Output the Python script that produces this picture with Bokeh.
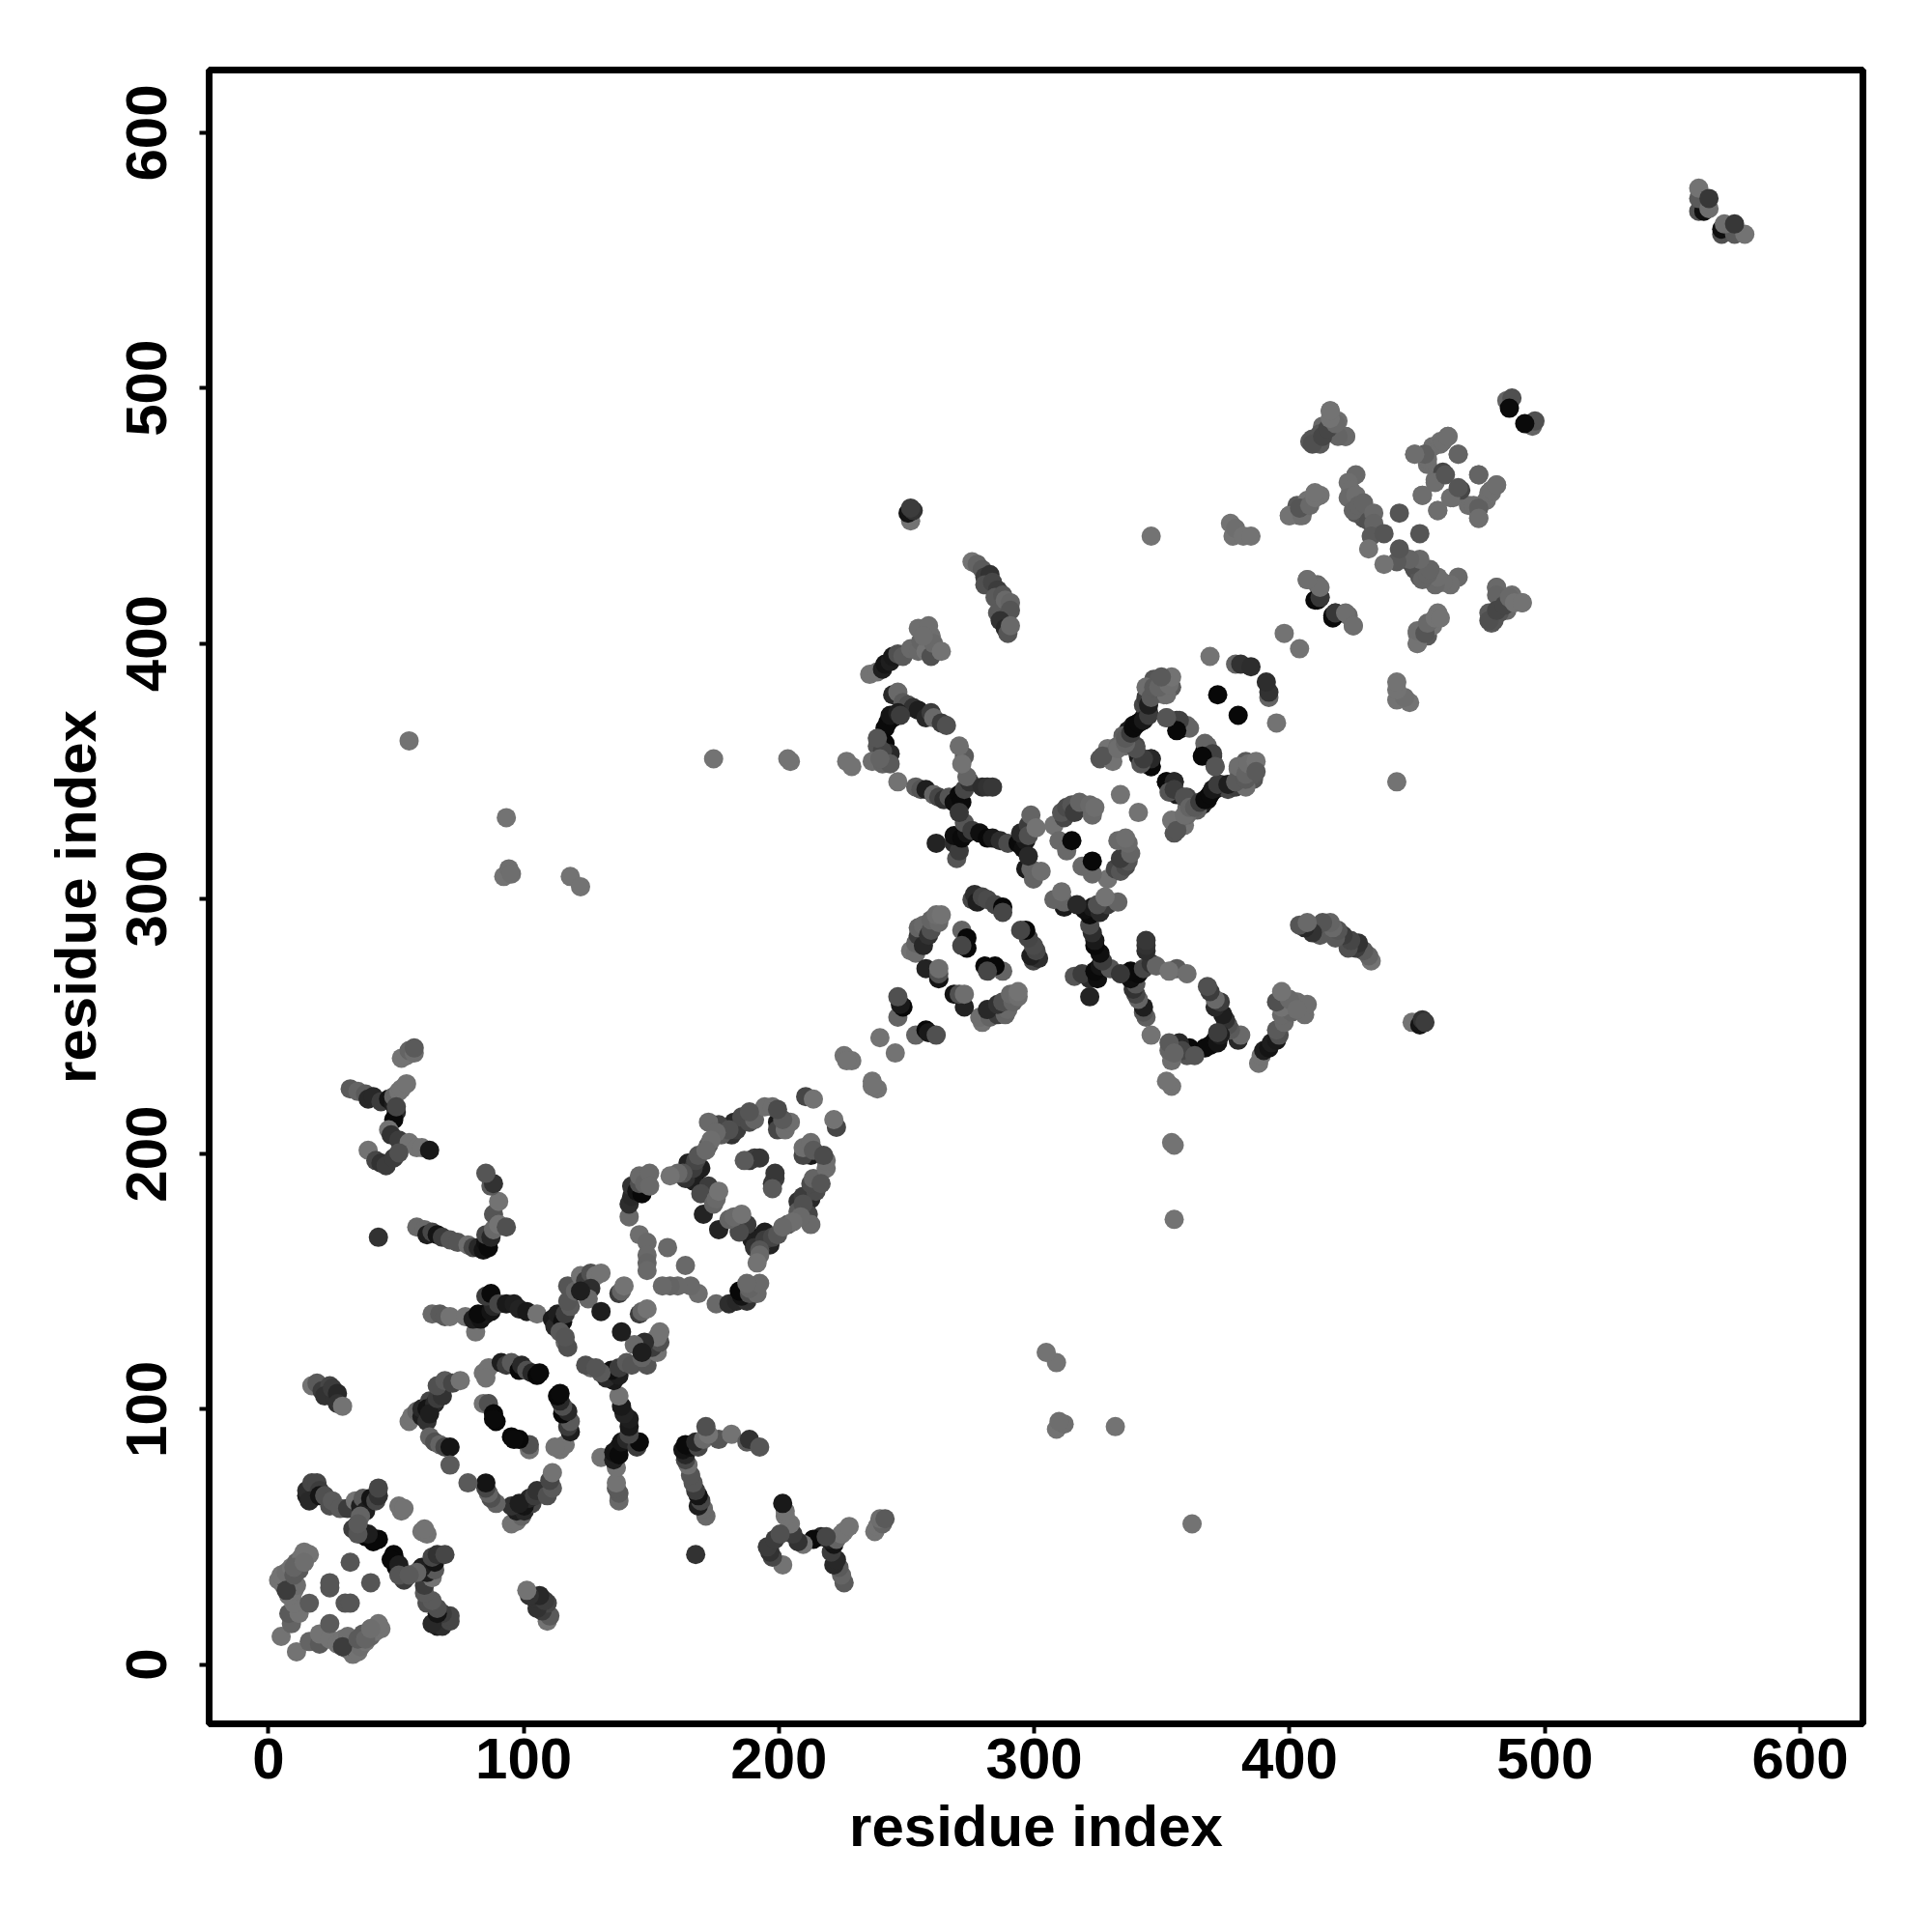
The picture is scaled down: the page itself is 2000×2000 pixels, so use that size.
from bokeh.plotting import figure
from bokeh.models import ColumnDataSource, Range1d, FixedTicker
from bokeh.embed import file_html
from bokeh.resources import INLINE

# Contacts: residue i, residue j, grey level (0-255) of the dot.
# The map is symmetric, each contact is shown at (i, j) and (j, i).
a_i = [5,9,8,12,10,16,8,10,9,6,4,7,5,7,12,9,11,14,13,14,16,24,24,32,11,7,10,10,14]
a_j = [11,16,20,20,24,24,27,29,32,31,33,33,35,36,37,38,40,40,42,44,43,30,32,40,31,29,35,38,40]
a_g = [115,100,90,115,115,90,115,115,115,115,115,60,115,110,90,115,100,115,115,115,115,85,85,85,110,60,90,100,110]

b_i = [15,15,17,19,20,16,20,22,24,25,28,31,34,36,37,38,40,42,43,43,36,35,33,35,38,40,43,41,39,35,35,52,51,53]
b_j = [66,68,71,71,68,64,66,66,62,64,61,61,64,62,65,60,65,64,66,69,58,55,53,52,50,50,49,48,51,51,55,60,62,61]
b_g = [30,45,70,70,60,40,20,80,80,90,90,60,115,30,90,30,20,70,50,70,100,100,60,70,8,8,8,8,30,85,90,115,115,115]

c_i = [17,19,21,24,22,26,25,27,27,29]
c_j = [109,110,107,109,105,104,108,106,102,101]
c_g = [115,90,60,70,50,50,60,40,50,115]

e_i = [55,56,58,60,60,62,63,62,65,63,66,68,66,69,72,75,63,65,67,69,71,71]
e_j = [95,97,99,97,100,95,103,100,102,98,104,105,109,111,110,111,89,87,86,85,85,78]
e_g = [115,115,100,30,40,50,70,20,40,30,60,50,80,90,70,115,100,80,100,70,20,90]

f_i = [84,86,85,91,93,95,98,99,101,103,105,106,84,86,88,89,88]
f_j = [114,116,112,118,117,118,115,117,115,114,113,114,102,102,98,95,96]
f_g = [115,115,115,30,60,90,8,40,80,40,8,10,115,80,8,8,10]

h_i = [52,54,55,57,57]
h_j = [237,238,240,239,241]
h_g = [115,115,100,110,90]

k_i = [32,35,38,39,41,44,47,49,50,49,47,48,51,55,58,60,63,39,42,44,46,49,51,49,51,52,54,50]
k_j = [225,224,223,221,222,220,221,219,216,213,209,207,205,204,202,202,201,201,197,196,195,198,200,222,224,225,227,218]
k_g = [90,100,90,40,40,60,20,30,40,10,115,50,60,115,115,115,25,115,70,50,60,60,80,100,115,115,115,70]

j_i = [43]
j_j = [167]
j_g = [50]

l_i = [58,61,62,64,66,68,71,74,78,80,82,84,85,86,85,87,88,88,90,93,90,87,88,85]
l_j = [171,170,168,169,168,167,166,165,164,163,163,162,165,163,168,167,170,176,172,171,181,187,188,192]
l_g = [105,105,30,70,20,60,85,85,110,70,40,20,15,10,70,40,105,85,115,80,115,90,50,85]

m_i = [64,67,69,71,77,81,80,83,85,82,87,88,85,87,90,93,96,98,101,105]
m_j = [137,137,136,136,136,130,135,135,137,137,138,140,144,145,141,141,141,139,138,137]
m_g = [105,90,90,115,115,115,30,20,25,10,20,40,60,10,70,25,30,35,25,115]

n_i = [111,112,113,115,116,114,116,117,116,118,117,117,120,122,124,126,128,130,126,125,122]
n_j = [135,132,137,134,137,130,126,124,128,140,142,148,146,152,150,153,152,153,147,143,146]
n_g = [25,40,30,15,60,90,105,80,85,90,85,85,100,115,60,80,115,115,45,105,30]

o_i = [130,137,138,139]
o_j = [138,145,146,148]
o_g = [30,60,100,115]

q_i = [141,141,142,142,144,146,145,145,147,149,149]
q_j = [175,180,183,187,185,184,188,191,188,192,187]
q_g = [105,45,40,50,20,8,80,105,100,105,105]

r_i = [145,148,148,148,148,156]
r_j = [168,165,160,157,154,163]
r_g = [110,105,105,100,105,105]

s_i = [167,164,166,169,163,181,182,199,183,166,172,167,199,176,185,188,162,168,177,172,202,180,204,201,190,160,175,173,194,197,171,157,199,188]
s_j = [192,196,189,194,190,207,212,212,209,194,203,197,209,211,214,212,192,199,207,212,209,209,212,213,213,192,208,205,218,218,201,191,217,216]
s_g = [10,35,30,30,50,50,40,25,60,60,90,70,70,70,75,75,85,85,90,105,110,80,110,90,100,105,105,110,110,110,105,115,75,85]

t_i = [170,172,169,174,175,176,188,190,192,186,210,213,225,228,226,239]
t_j = [176,187,184,180,182,185,197,198,198,197,222,221,238,236,236,245]
t_g = [35,60,75,100,105,115,55,60,55,90,70,115,115,115,115,115]

u_i = [246,248,247,246,251,253,253,254,256,254,256,258,259,259,262,261,263,257,262,262,262]
u_j = [253,257,258,261,279,278,282,285,281,288,289,285,287,291,290,293,293,272,268,270,272]
u_g = [100,8,25,80,115,110,100,60,40,100,105,50,80,100,105,110,115,35,20,80,110]

w_i = [271,273,273,271,275,276,277,279,281,284,287,287]
w_j = [287,284,280,281,299,301,298,300,299,297,296,294]
w_g = [100,8,8,70,70,45,30,70,75,70,8,70]

y_i = [246,253,255,257,260,262,264,266,268,270,271,272,274,273,279,281,283,272,271,270]
y_j = [345,343,342,342,340,339,338,339,337,340,337,342,345,347,343,343,343,355,352,359]
y_g = [115,95,85,30,100,70,50,85,15,10,10,70,50,100,45,50,55,90,115,110]

z_i = [261,268,269,270,268,271,273,272,270,275,278,281,283,286,289,293,295,296,294,297,298,297,300,307,296,298,299,302,297]
z_j = [321,321,315,318,324,323,325,329,333,326,325,323,323,322,321,321,319,322,325,328,332,324,327,328,311,311,307,310,316]
z_g = [35,45,85,60,15,10,20,85,55,60,15,8,25,45,75,10,15,25,40,60,100,80,115,115,25,100,100,110,40]

aa_i = [309,312,314,311,310,312,314,315,317,322,321,323,333]
aa_j = [322,318,322,331,333,335,336,333,337,332,336,335,340]
aa_g = [105,105,8,70,85,75,85,60,100,105,105,110,115]

bb_i = [235,238,240,241,243,244,246,248,251,254,255,257,259,259,260,263,254,258,256]
bb_j = [387,388,389,391,392,394,395,394,397,396,400,396,394,402,399,396,405,406,402]
bb_g = [115,115,30,20,30,25,80,90,105,105,100,115,80,110,105,115,110,110,110]

cc_i = [275,277,279,280,282,280,283,285,284,287,285,288,290,290,286,288,289,290]
cc_j = [431,430,428,425,426,422,423,420,417,418,411,416,415,412,408,405,403,406]
cc_g = [115,100,90,60,50,80,70,60,90,85,90,105,100,85,50,40,85,105]

dd_i = [251,250,252,251]
dd_j = [447,450,451,452]
dd_g = [115,20,50,60]

ee_i = [338,340,336,342,344,347,357,355,342,343,325,334,328,329,332,345,346,348,350,351,352,353,351,359,343]
ee_j = [367,368,365,370,372,382,366,369,375,378,354,363,358,355,359,381,385,385,379,381,385,382,370,367,382]
ee_g = [15,10,30,25,35,30,8,50,70,60,85,95,115,100,105,100,85,90,115,100,95,90,115,100,110]

ef_i = [335,339,340,343,345,345,351,354,352,354,358,353,355,358,360,362,364,366,368,369,371,375,378,382,379,382,383,386,386]
ef_j = [359,359,355,352,354,351,345,345,341,342,339,330,326,332,335,335,337,338,340,342,344,344,345,346,351,348,352,353,349]
ef_g = [110,70,30,70,30,8,8,40,85,60,80,115,85,110,100,90,60,10,10,25,60,30,90,90,110,100,110,115,90]

eg_i = [366,369,365,370,371,368,378,380,384,397]
eg_j = [360,356,355,351,379,394,391,391,390,403]
eg_g = [100,65,8,85,8,115,100,50,45,115]

gg_i = [407,408,410,412,411,414,415,416,415,417,418,421]
gg_j = [478,479,478,484,481,482,490,486,484,482,486,480]
gg_g = [90,85,100,105,85,90,115,110,95,90,110,115]

hh_i = [399,403,402,405,406,409,411]
hh_j = [449,449,453,452,455,456,457]
hh_g = [115,110,90,115,115,115,115]

ii_i = [428,433,428,425,430,425,422,423,422,425,424,426,428,432,432,431,436,430,442]
ii_j = [451,443,448,450,447,465,462,459,456,457,451,453,454,450,446,441,442,436,450]
ii_g = [70,70,80,85,80,105,110,110,105,110,100,100,100,105,100,90,85,115,85]

jj_i = [448,452,453,455,458,461,465,456,459,451,457,462,465,473,471,473,473,477,478,480]
jj_j = [473,473,469,476,478,480,473,463,466,457,451,456,460,465,453,452,448,458,459,461]
jj_g = [115,90,110,110,115,115,105,110,70,110,110,110,85,100,110,95,110,110,110,110]

kk_i = [406,410,409,411,416,417,421,424]
kk_j = [424,422,416,417,410,411,411,406]
kk_g = [110,105,10,60,10,55,110,110]

ll_i = [480,480,477,477,480,483,485,487,490]
ll_j = [421,418,411,408,412,414,417,415,415]
ll_g = [105,100,90,80,70,70,105,115,115]

mm_i = [449,449,452,453,456,458]
mm_j = [399,404,403,407,409,409]
mm_g = [115,110,85,105,115,115]

nn_i = [484,486,485]
nn_j = [494,495,491]
nn_g = [100,80,10]

oo_i = [559,561,559,559,563,563]
oo_j = [568,568,573,577,569,573]
oo_g = [80,15,90,115,110,55]

pp_i = [244,246,248,250,252,254,257,259,260,263,265,242,244,241,243,246,247,241,243,238,240,236,240,243,239,238]
pp_j = [379,380,376,375,374,373,370,372,370,368,367,368,370,366,371,372,371,360,356,359,357,353,352,352,354,362]
pp_g = [40,105,90,80,50,30,40,60,105,60,80,10,10,10,20,30,60,8,40,85,70,110,100,90,100,85]

far_i = [55,93,92,94,95,118,122,174,204,203,226,228,345,376,377,378,381,384]
far_j = [361,331,308,311,309,308,304,354,353,354,353,351,441,446,441,444,441,441]
far_g = [115,115,115,110,110,115,115,115,115,115,115,115,115,115,115,110,115,115]

tick_values = [0, 100, 200, 300, 400, 500, 600]
axis_title = "residue index"

# Indices above were read with a slightly coarse pixel scale; this corrects the reading.
reading_scale = 1.0023

groups = [(a_i, a_j, a_g), (b_i, b_j, b_g), (c_i, c_j, c_g), (e_i, e_j, e_g), (f_i, f_j, f_g),
          (h_i, h_j, h_g), (k_i, k_j, k_g), (j_i, j_j, j_g), (l_i, l_j, l_g), (m_i, m_j, m_g),
          (n_i, n_j, n_g), (o_i, o_j, o_g), (q_i, q_j, q_g), (r_i, r_j, r_g), (s_i, s_j, s_g),
          (t_i, t_j, t_g), (u_i, u_j, u_g), (w_i, w_j, w_g), (y_i, y_j, y_g), (z_i, z_j, z_g),
          (aa_i, aa_j, aa_g), (bb_i, bb_j, bb_g), (cc_i, cc_j, cc_g), (dd_i, dd_j, dd_g),
          (ee_i, ee_j, ee_g), (ef_i, ef_j, ef_g), (eg_i, eg_j, eg_g), (gg_i, gg_j, gg_g),
          (hh_i, hh_j, hh_g), (ii_i, ii_j, ii_g), (jj_i, jj_j, jj_g), (kk_i, kk_j, kk_g),
          (ll_i, ll_j, ll_g), (mm_i, mm_j, mm_g), (nn_i, nn_j, nn_g), (oo_i, oo_j, oo_g),
          (pp_i, pp_j, pp_g), (far_i, far_j, far_g)]

xs, ys, cs = [], [], []
for n, (gi, gj, gg) in enumerate(groups):
    assert len(gi) == len(gj) == len(gg), f"group {n}: {len(gi)} {len(gj)} {len(gg)}"
    for i, j, g in zip(gi, gj, gg):
        col = "#%02x%02x%02x" % (g, g, g)
        xs += [i * reading_scale, j * reading_scale]
        ys += [j * reading_scale, i * reading_scale]
        cs += [col, col]

p = figure(frame_width=1712, frame_height=1712,
           x_range=Range1d(-23.2, 624.6), y_range=Range1d(-23.2, 624.6),
           output_backend="svg", toolbar_location=None,
           min_border_left=216, min_border_top=72, min_border_right=40, min_border_bottom=140)
p.scatter("x", "y", source=ColumnDataSource(dict(x=xs, y=ys, c=cs)), size=20,
          fill_color="c", line_color=None, marker="circle")

p.grid.visible = False
p.outline_line_color = "black"
p.outline_line_width = 7
p.background_fill_color = "white"
p.border_fill_color = "white"

for ax in (p.xaxis[0], p.yaxis[0]):
    ax.ticker = FixedTicker(ticks=tick_values)
    ax.minor_tick_line_color = None
    ax.axis_line_color = None
    ax.major_tick_line_color = "black"
    ax.major_tick_line_width = 4
    ax.major_tick_out = 10
    ax.major_tick_in = 0
    ax.major_label_text_font = "Liberation Sans"
    ax.major_label_text_font_style = "bold"
    ax.major_label_text_font_size = "60px"
    ax.major_label_text_color = "black"
    ax.axis_label = axis_title
    ax.axis_label_text_font = "Liberation Sans"
    ax.axis_label_text_font_style = "bold"
    ax.axis_label_text_font_size = "60px"
    ax.axis_label_text_color = "black"
p.yaxis[0].major_label_orientation = "vertical"
p.xaxis[0].major_label_standoff = 5
p.yaxis[0].major_label_standoff = 34
p.xaxis[0].axis_label_standoff = 13
p.yaxis[0].axis_label_standoff = 17

open("out.html", "w").write(file_html(p, INLINE))
